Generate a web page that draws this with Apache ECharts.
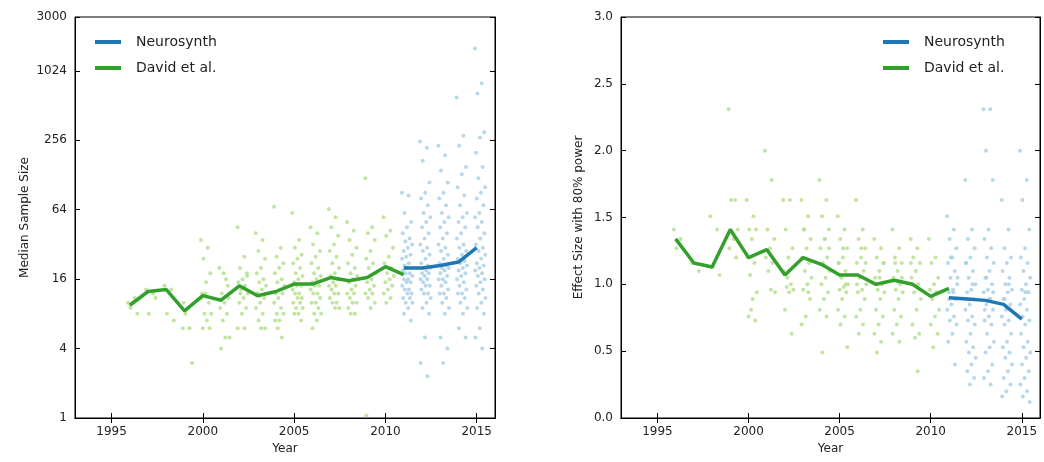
<!doctype html>
<html lang="en">
  <head>
    <meta charset="UTF-8" />
    <title>sample size and effect size</title>
    <script src="https://cdn.jsdelivr.net/npm/echarts@6/dist/echarts.min.js"></script>
    <style>
      * { margin: 0; padding: 0; }
      html, body, #chart { width: 1044px; height: 462px; overflow: hidden; background: #fff; }
    </style>
  </head>
  <body>
    <div id="chart"></div>
    <script>
      // median lines
      const davidYears = [1996, 1997, 1998, 1999, 2000, 2001, 2002, 2003, 2004, 2005, 2006, 2007, 2008, 2009, 2010, 2011];
      const davidSize = [9.5, 12.5, 13, 8.5, 11.5, 10.5, 14, 11.5, 12.5, 14.5, 14.5, 16.5, 15.5, 16.5, 20.5, 17.5];
      const davidEffect = [1.34, 1.16, 1.13, 1.41, 1.2, 1.26, 1.07, 1.2, 1.15, 1.07, 1.07, 1.0, 1.03, 1.0, 0.91, 0.97];
      const neuroYears = [2011, 2012, 2013, 2014, 2015];
      const neuroSize = [20, 20, 21, 22.5, 30];
      const neuroEffect = [0.9, 0.89, 0.88, 0.85, 0.74];
      const yearTicks = [1995, 2000, 2005, 2010, 2015];

      // individual studies, per year
      const davidSizePts = {
        1996: [10, 11, 9, 8],
        1997: [13, 12, 8, 11],
        1998: [14, 13, 8, 7],
        1999: [6, 6, 8, 3, 9, 10],
        2000: [35, 30, 24, 18, 15, 12, 10, 8, 8, 7, 6, 6, 12, 11],
        2001: [20, 16, 12, 11, 10, 9, 8, 7, 5, 5, 4, 14, 18],
        2002: [45, 25, 20, 18, 16, 15, 14, 13, 12, 11, 10, 9, 8, 6, 6, 12, 17],
        2003: [40, 35, 28, 24, 20, 18, 16, 15, 14, 13, 12, 11, 10, 9, 8, 7, 6, 6, 12],
        2004: [68, 30, 25, 22, 20, 18, 16, 15, 14, 13, 12, 12, 11, 10, 9, 8, 8, 7, 7, 5, 6],
        2005: [60, 35, 30, 26, 24, 22, 20, 18, 17, 16, 15, 14, 14, 13, 12, 12, 11, 11, 10, 10, 9, 9, 8, 8, 7],
        2006: [45, 40, 32, 28, 25, 22, 20, 18, 17, 16, 15, 14, 14, 13, 12, 12, 11, 10, 10, 9, 8, 8, 7, 6],
        2007: [65, 55, 45, 38, 32, 28, 25, 22, 20, 18, 17, 16, 15, 14, 14, 13, 12, 12, 11, 10, 10, 9, 9],
        2008: [50, 42, 35, 30, 26, 22, 20, 18, 17, 16, 15, 14, 13, 12, 12, 11, 10, 10, 9, 8, 8],
        2009: [120, 45, 40, 35, 28, 24, 22, 20, 18, 16, 15, 14, 13, 12, 12, 11, 10, 9, 1.05],
        2010: [55, 42, 38, 30, 25, 22, 20, 18, 17, 16, 15, 14, 13, 12, 11, 10]
      };
      const neuroSizePts = {
        2011: [90, 85, 60, 50, 45, 40, 36, 34, 32, 30, 28, 26, 25, 24, 22, 21, 20, 20, 19, 18, 18, 17, 16, 16, 15, 15, 14, 13, 13, 12, 12, 11, 11, 10, 10, 9, 8, 7],
        2012: [250, 220, 170, 110, 90, 80, 70, 60, 55, 50, 45, 40, 36, 32, 30, 28, 26, 24, 22, 21, 20, 20, 19, 18, 18, 17, 16, 16, 15, 14, 14, 13, 12, 12, 11, 10, 9, 8, 5, 3, 2.3],
        2013: [230, 190, 140, 110, 90, 80, 70, 60, 55, 50, 45, 40, 36, 32, 30, 28, 26, 24, 22, 21, 20, 20, 19, 18, 17, 16, 16, 15, 14, 13, 12, 12, 11, 10, 9, 8, 5, 4, 3],
        2014: [600, 280, 230, 150, 130, 100, 85, 70, 60, 55, 50, 45, 40, 36, 32, 30, 28, 26, 24, 23, 22, 21, 20, 19, 18, 17, 16, 15, 14, 13, 12, 12, 11, 10, 9, 8, 6, 5],
        2015: [1600, 800, 650, 300, 270, 200, 150, 120, 100, 90, 80, 70, 60, 55, 50, 45, 40, 36, 32, 30, 28, 26, 24, 22, 21, 20, 19, 18, 17, 16, 15, 14, 13, 12, 11, 10, 9, 8, 6, 5, 4]
      };
      const davidEffectPts = {
        1996: [1.41, 1.34, 1.27],
        1997: [1.16, 1.1],
        1998: [1.51, 1.41, 1.13, 1.07],
        1999: [2.31, 1.63, 1.63, 1.41, 1.34, 1.27, 1.2],
        2000: [1.63, 1.51, 1.41, 1.41, 1.34, 1.2, 1.16, 1.07, 0.94, 0.89, 0.76, 0.73, 0.81],
        2001: [2.0, 1.78, 1.41, 1.34, 1.27, 1.2, 1.16, 1.1, 0.94, 0.96],
        2002: [1.63, 1.63, 1.41, 1.27, 1.2, 1.1, 1.0, 0.98, 0.96, 0.94, 0.81, 0.63, 1.05],
        2003: [1.63, 1.51, 1.41, 1.34, 1.27, 1.2, 1.16, 1.1, 1.05, 1.0, 0.96, 0.89, 0.76, 0.7, 0.94, 1.41],
        2004: [1.78, 1.63, 1.51, 1.41, 1.34, 1.27, 1.2, 1.16, 1.1, 1.05, 1.0, 0.94, 0.89, 0.81, 0.76, 0.49, 1.27, 1.34],
        2005: [1.51, 1.41, 1.34, 1.27, 1.2, 1.16, 1.1, 1.05, 1.0, 0.98, 0.96, 0.94, 0.89, 0.81, 0.76, 0.7, 0.53, 1.27, 1.16, 1.0],
        2006: [1.63, 1.41, 1.34, 1.27, 1.2, 1.16, 1.1, 1.05, 1.0, 0.96, 0.94, 0.89, 0.81, 0.76, 0.7, 0.63, 1.16, 1.27, 1.0],
        2007: [1.34, 1.27, 1.2, 1.16, 1.1, 1.05, 1.0, 0.96, 0.94, 0.89, 0.81, 0.76, 0.7, 0.63, 0.57, 0.49, 1.16, 1.05],
        2008: [1.41, 1.27, 1.2, 1.16, 1.1, 1.05, 1.0, 0.96, 0.94, 0.89, 0.81, 0.76, 0.7, 0.63, 0.57, 1.16, 1.05],
        2009: [1.34, 1.27, 1.2, 1.16, 1.1, 1.05, 1.0, 0.94, 0.89, 0.81, 0.7, 0.63, 0.6, 1.16, 0.35],
        2010: [1.34, 1.2, 1.16, 1.05, 1.0, 0.96, 0.94, 0.89, 0.81, 0.76, 0.7, 0.63, 0.53]
      };
      const neuroEffectPts = {
        2011: [1.51, 1.41, 1.34, 1.27, 1.2, 1.16, 1.1, 1.05, 1.0, 0.96, 0.94, 0.89, 0.85, 0.81, 0.76, 0.73, 0.7, 0.63, 0.57, 0.4, 1.2, 1.05, 0.94, 0.89],
        2012: [1.78, 1.41, 1.34, 1.27, 1.2, 1.16, 1.1, 1.05, 1.0, 0.96, 0.94, 0.89, 0.85, 0.81, 0.76, 0.73, 0.7, 0.63, 0.57, 0.53, 0.49, 0.45, 0.4, 0.35, 0.3, 0.25, 1.16, 1.0, 0.89],
        2013: [2.31, 2.31, 2.0, 1.78, 1.41, 1.34, 1.27, 1.2, 1.16, 1.1, 1.05, 1.0, 0.96, 0.94, 0.89, 0.85, 0.81, 0.76, 0.73, 0.7, 0.63, 0.57, 0.53, 0.49, 0.4, 0.35, 0.3, 0.25, 1.05, 0.94, 0.89, 0.81],
        2014: [1.63, 1.41, 1.27, 1.2, 1.16, 1.1, 1.05, 1.0, 0.96, 0.94, 0.89, 0.85, 0.81, 0.76, 0.73, 0.7, 0.63, 0.57, 0.53, 0.49, 0.45, 0.4, 0.35, 0.3, 0.25, 0.2, 0.16, 1.0, 0.89],
        2015: [2.0, 1.78, 1.63, 1.41, 1.27, 1.2, 1.16, 1.1, 1.05, 1.0, 0.96, 0.94, 0.89, 0.85, 0.81, 0.76, 0.73, 0.7, 0.63, 0.57, 0.53, 0.49, 0.45, 0.4, 0.35, 0.3, 0.25, 0.2, 0.16, 0.12, 0.94]
      };
      const sizeTicks = { 0: '1', 2: '4', 4: '16', 6: '64', 8: '256', 10: '1024' };

      const lightGreen = '#b2df8a';
      const lightBlue = '#a6cee3';
      const darkGreen = '#33a02c';
      const darkBlue = '#1f78b4';
      const font = 'DejaVu Sans';
      const log2 = (v) => Math.log(v) / Math.LN2;

      // spread each year's studies a little along x so they do not sit on one column
      function points(byYear, tf) {
        const out = [];
        Object.keys(byYear).forEach((y) => {
          byYear[y].forEach((v, i) => {
            out.push([+y - 0.1 + ((i * 0.37) % 0.6), tf ? tf(v) : v]);
          });
        });
        return out;
      }
      const pairs = (xs, ys, tf) => xs.map((x, i) => [x, tf ? tf(ys[i]) : ys[i]]);

      function xAxes(gi) {
        const base = {
          type: 'value', gridIndex: gi, min: 1993, max: 2016,
          axisLine: { lineStyle: { color: '#000' } },
          axisTick: { inside: true, length: 5, customValues: yearTicks, lineStyle: { color: '#000' } },
          splitLine: { show: false }
        };
        return [
          Object.assign({}, base, {
            name: 'Year', nameLocation: 'middle', nameGap: 24,
            nameTextStyle: { fontFamily: font, fontSize: 12, color: '#222' },
            axisLabel: { fontFamily: font, fontSize: 12, color: '#222', margin: 8, customValues: yearTicks, formatter: (v) => String(v) }
          }),
          Object.assign({}, base, { position: 'top', axisLabel: { show: false } })
        ];
      }

      const yLeft = {
        type: 'value', gridIndex: 0, min: 0, max: log2(3000), interval: 2,
        name: 'Median Sample Size', nameLocation: 'middle', nameGap: 44,
        nameTextStyle: { fontFamily: font, fontSize: 12, color: '#222' },
        axisLine: { show: true, lineStyle: { color: '#000' } },
        axisTick: { inside: true, length: 5, lineStyle: { color: '#000' } },
        splitLine: { show: false },
        axisLabel: {
          fontFamily: font, fontSize: 12, color: '#222', showMaxLabel: true,
          formatter: (v) => (v > 11 ? '3000' : sizeTicks[Math.round(v)] || '')
        }
      };
      const yRight = {
        type: 'value', gridIndex: 1, min: 0, max: 3, interval: 0.5,
        name: 'Effect Size with 80% power', nameLocation: 'middle', nameGap: 36,
        nameTextStyle: { fontFamily: font, fontSize: 12, color: '#222' },
        axisLine: { show: true, lineStyle: { color: '#000' } },
        axisTick: { inside: true, length: 5, lineStyle: { color: '#000' } },
        splitLine: { show: false },
        axisLabel: { fontFamily: font, fontSize: 12, color: '#222', formatter: (v) => v.toFixed(1) }
      };
      const mirror = (a) => Object.assign({}, a, { name: '', position: 'right', axisLabel: { show: false } });

      const scatter = (name, xi, yi, data, color) => ({
        name, type: 'scatter', xAxisIndex: xi, yAxisIndex: yi, data,
        symbolSize: 4, itemStyle: { color }, silent: true, z: 2
      });
      const line = (name, xi, yi, data, color) => ({
        name, type: 'line', xAxisIndex: xi, yAxisIndex: yi, data,
        symbol: 'none', lineStyle: { width: 3.5, color }, itemStyle: { color }, z: 5
      });

      const legendBase = {
        data: ['Neurosynth', 'David et al.'], orient: 'vertical', icon: 'rect',
        itemWidth: 26, itemHeight: 4, itemGap: 12,
        textStyle: { fontFamily: font, fontSize: 14, color: '#222', padding: [0, 0, 0, 10] }
      };

      const option = {
        animation: false,
        backgroundColor: '#fff',
        grid: [
          { left: 75, right: 549, top: 17, bottom: 44, show: true, borderColor: '#000', borderWidth: 1 },
          { left: 621, right: 4, top: 17, bottom: 44, show: true, borderColor: '#000', borderWidth: 1 }
        ],
        legend: [
          Object.assign({}, legendBase, { left: 90, top: 30 }),
          Object.assign({}, legendBase, { left: 878, top: 30 })
        ],
        xAxis: xAxes(0).concat(xAxes(1)),
        yAxis: [yLeft, mirror(yLeft), yRight, mirror(yRight)],
        series: [
          scatter('david pts L', 0, 0, points(davidSizePts, log2), lightGreen),
          scatter('neuro pts L', 0, 0, points(neuroSizePts, log2), lightBlue),
          line('Neurosynth', 0, 0, pairs(neuroYears, neuroSize, log2), darkBlue),
          line('David et al.', 0, 0, pairs(davidYears, davidSize, log2), darkGreen),
          scatter('david pts R', 2, 2, points(davidEffectPts), lightGreen),
          scatter('neuro pts R', 2, 2, points(neuroEffectPts), lightBlue),
          line('Neurosynth', 2, 2, pairs(neuroYears, neuroEffect), darkBlue),
          line('David et al.', 2, 2, pairs(davidYears, davidEffect), darkGreen)
        ]
      };
      const chart = echarts.init(document.getElementById('chart'));
      chart.setOption(option);
    </script>
  </body>
</html>
